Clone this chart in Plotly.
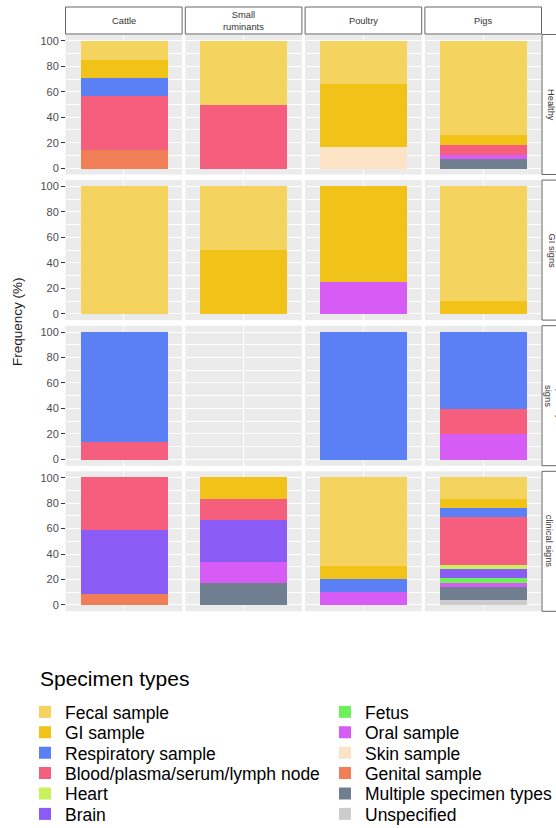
import plotly.graph_objects as go

W, H = 556, 828

species = ["Cattle", "Small<br>ruminants", "Poultry", "Pigs"]
signs = ["Healthy", "GI signs", "Respiratory<br>signs", "Other<br>clinical signs"]

specimen_types = [
    "Fecal sample", "GI sample", "Respiratory sample",
    "Blood/plasma/serum/lymph node", "Heart", "Brain", "Fetus",
    "Oral sample", "Skin sample", "Genital sample",
    "Multiple specimen types", "Unspecified",
]
colors = [
    "#F4D35E", "#F1C318", "#5B7FF5", "#F65E7D", "#C8F25A", "#8A5CF5",
    "#6EF05A", "#D65CF5", "#FDE3C6", "#F07F58", "#707F8F", "#CCCCCC",
]

# values (%) per species, in specimen_types order
healthy = {
    "Cattle":          [14.3, 14.3, 14.3, 42.8, 0, 0, 0, 0, 0, 14.3, 0, 0],
    "Small ruminants": [50, 0, 0, 50, 0, 0, 0, 0, 0, 0, 0, 0],
    "Poultry":         [33.3, 50, 0, 0, 0, 0, 0, 0, 16.7, 0, 0, 0],
    "Pigs":            [73.4, 7.8, 0, 7.8, 0, 0, 0, 3.2, 0, 0, 7.8, 0],
}
gi_signs = {
    "Cattle":          [100, 0, 0, 0, 0, 0, 0, 0, 0, 0, 0, 0],
    "Small ruminants": [50, 50, 0, 0, 0, 0, 0, 0, 0, 0, 0, 0],
    "Poultry":         [0, 75, 0, 0, 0, 0, 0, 25, 0, 0, 0, 0],
    "Pigs":            [90, 10, 0, 0, 0, 0, 0, 0, 0, 0, 0, 0],
}
respiratory_signs = {
    "Cattle":          [0, 0, 86.5, 13.5, 0, 0, 0, 0, 0, 0, 0, 0],
    "Small ruminants": [0, 0, 0, 0, 0, 0, 0, 0, 0, 0, 0, 0],
    "Poultry":         [0, 0, 100, 0, 0, 0, 0, 0, 0, 0, 0, 0],
    "Pigs":            [0, 0, 60, 20, 0, 0, 0, 20, 0, 0, 0, 0],
}
other_signs = {
    "Cattle":          [0, 0, 0, 41.7, 0, 50, 0, 0, 0, 8.3, 0, 0],
    "Small ruminants": [0, 16.7, 0, 16.7, 0, 33.3, 0, 16.6, 0, 0, 16.7, 0],
    "Poultry":         [70, 10, 10, 0, 0, 0, 0, 10, 0, 0, 0, 0],
    "Pigs":            [17.2, 6.9, 6.9, 37.9, 3.45, 6.9, 3.45, 3.45, 0, 0, 10.4, 3.45],
}
rows_data = [healthy, gi_signs, respiratory_signs, other_signs]
species_keys = ["Cattle", "Small ruminants", "Poultry", "Pigs"]

y_ticks = [0, 20, 40, 60, 80, 100]

# ---- layout geometry (page pixels) ----
col_left = [65.5, 185.3, 305.1, 424.9]
panel_w = 116.6
row_top = [34.5, 180.1, 325.7, 471.3]
panel_h = 140.0

def fx(p):
    return p / W

def fy(p):
    return 1 - p / H

FONT = "Liberation Sans, Arial, sans-serif"

fig = go.Figure()
layout_axes = {}
shown = set()

def legend_id(i):
    return "legend" if i == 0 else f"legend{i + 1}"

for r in range(4):
    for c in range(4):
        k = r * 4 + c + 1
        xa = "x" if k == 1 else f"x{k}"
        ya = "y" if k == 1 else f"y{k}"
        layout_axes["xaxis" if k == 1 else f"xaxis{k}"] = dict(
            domain=[fx(col_left[c]), fx(col_left[c] + panel_w)],
            anchor=ya, range=[-0.6, 0.6], tickvals=[0],
            showticklabels=False, ticks="", showgrid=True,
            gridcolor="white", gridwidth=1.1, zeroline=False,
            showline=False, fixedrange=True,
        )
        layout_axes["yaxis" if k == 1 else f"yaxis{k}"] = dict(
            domain=[fy(row_top[r] + panel_h), fy(row_top[r])],
            anchor=xa, range=[-5, 105], tickvals=y_ticks,
            showticklabels=(c == 0), ticks="outside" if c == 0 else "",
            ticklen=3.5, tickwidth=1, tickcolor="#333333",
            tickfont=dict(family=FONT, size=11, color="#4D4D4D"),
            showgrid=True, gridcolor="white", gridwidth=1.1,
            minor=dict(dtick=10, tick0=0, showgrid=True, gridcolor="white",
                       gridwidth=0.5, ticks=""),
            zeroline=False, showline=False, fixedrange=True,
        )
        vals = rows_data[r][species_keys[c]]
        if sum(vals) == 0:
            # empty panel: a blank trace so the panel background is drawn
            fig.add_trace(go.Scatter(x=[0], y=[None], mode="markers",
                                     xaxis=xa, yaxis=ya, showlegend=False,
                                     hoverinfo="skip"))
        # first trace is drawn at the bottom of the stack
        for i in reversed(range(len(specimen_types))):
            v = vals[i]
            if v <= 0:
                continue
            name = specimen_types[i]
            fig.add_trace(go.Bar(
                x=[0], y=[v], width=0.9, name=name,
                marker=dict(color=colors[i], line=dict(width=0)),
                xaxis=xa, yaxis=ya, legendgroup=name,
                showlegend=name not in shown,
                legend=legend_id(i), hoverinfo="name+y",
            ))
            shown.add(name)

shapes = []
annotations = []
# top strips
for c in range(4):
    shapes.append(dict(type="rect", xref="paper", yref="paper",
                       x0=fx(col_left[c]), x1=fx(col_left[c] + panel_w),
                       y0=fy(34), y1=fy(7),
                       fillcolor="white", line=dict(color="#666666", width=1)))
    annotations.append(dict(xref="paper", yref="paper",
                            x=fx(col_left[c] + panel_w / 2), y=fy(20.5),
                            text=species[c], showarrow=False,
                            xanchor="center", yanchor="middle",
                            font=dict(family=FONT, size=9.3, color="#333333")))
# right strips (cut by the right edge, as in the original)
strip_x = [551.5, 551.5, 554.5, 554.5]
for r in range(4):
    shapes.append(dict(type="rect", xref="paper", yref="paper",
                       x0=fx(542), x1=fx(572),
                       y0=fy(row_top[r] + panel_h), y1=fy(row_top[r]),
                       fillcolor="white", line=dict(color="#666666", width=1)))
    annotations.append(dict(xref="paper", yref="paper",
                            x=fx(strip_x[r]), y=fy(row_top[r] + panel_h / 2),
                            text=signs[r], showarrow=False, textangle=90,
                            xanchor="center", yanchor="middle",
                            font=dict(family=FONT, size=9.3, color="#333333")))

# y axis title
annotations.append(dict(xref="paper", yref="paper", x=fx(18), y=fy(322),
                        text="Frequency (%)", showarrow=False, textangle=-90,
                        xanchor="center", yanchor="middle",
                        font=dict(family=FONT, size=13.5, color="#1A1A1A")))
# legend title
annotations.append(dict(xref="paper", yref="paper", x=fx(38), y=fy(678),
                        text="Specimen types", showarrow=False,
                        xanchor="left", yanchor="middle",
                        font=dict(family=FONT, size=21, color="#000000")))

legends = {}
for i in range(len(specimen_types)):
    col = 0 if i < 6 else 1
    j = i % 6
    key_left = 39 if col == 0 else 339
    legends[legend_id(i)] = dict(
        orientation="v", yanchor="middle", xanchor="left",
        x=fx(key_left - 14), y=fy(712 + 20.4 * j),
        bgcolor="rgba(0,0,0,0)", borderwidth=0, tracegroupgap=0,
        font=dict(family=FONT, size=17.5, color="#000000"),
    )

fig.update_layout(
    width=W, height=H, autosize=False,
    margin=dict(l=0, r=0, t=0, b=0, autoexpand=False),
    paper_bgcolor="white", plot_bgcolor="#EBEBEB",
    barmode="stack", bargap=0,
    shapes=shapes, annotations=annotations,
    font=dict(family=FONT),
    **legends,
    **layout_axes,
)

page_css = (
    "document.documentElement.style.margin='0';"
    "document.documentElement.style.overflow='hidden';"
    "document.body.style.margin='0';"
    "document.body.style.overflow='hidden';"
)
fig.write_html("out.html", config={"displayModeBar": False},
               post_script=page_css)
